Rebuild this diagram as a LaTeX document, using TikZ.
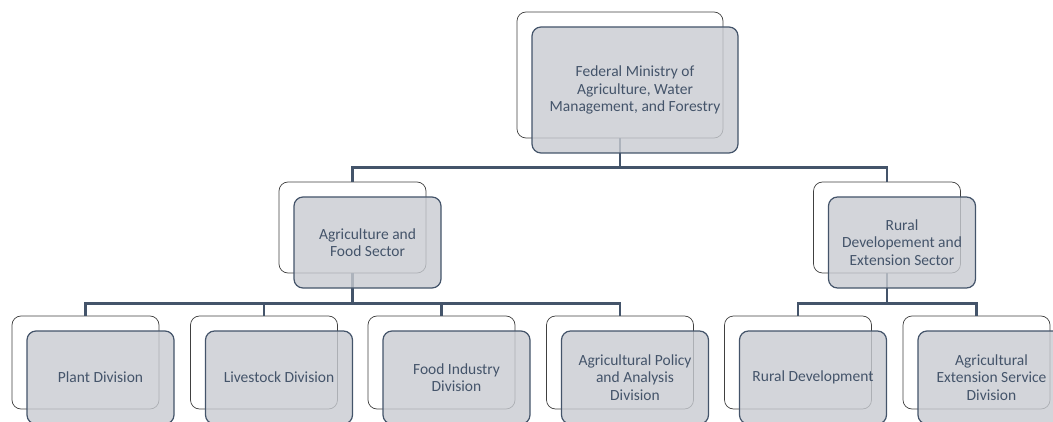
\documentclass[tikz,border=0pt]{standalone}
\usepackage{fontspec}
\setmainfont{Carlito}
\usetikzlibrary{positioning}

\definecolor{boxfill}{RGB}{200,203,209}
\definecolor{slate}{RGB}{68,84,106}

\tikzset{
  backframe/.style={draw=black!75, line width=0.7pt, fill=white, rounded corners=9pt,
    minimum width=147pt, minimum height=93pt, inner sep=0pt},
  frontbox/.style={draw=slate, line width=1.2pt, fill=boxfill, fill opacity=0.8,
    text opacity=1, text=slate, rounded corners=9pt, minimum width=147pt,
    minimum height=93pt, inner sep=0pt, align=center,
    font=\fontsize{15.5}{17.5}\selectfont},
  bigbox/.style={minimum width=206pt, minimum height=126pt},
  midbox/.style={minimum height=91pt},
  link/.style={draw=slate, line width=2.5pt},
}

\begin{document}
\begin{tikzpicture}[x=1pt,y=1pt]
    \clip (0,0) rectangle (1053,421);
    % Back frames
    \node[backframe,bigbox] (ministry-b) at (620,346) {};
    \node[backframe,midbox] (agri-b) at (352.5,193.5) {};
    \node[backframe,midbox] (rural-b) at (887,193.5) {};
    \node[backframe] (plant-b) at (85.5,58.5) {};
    \node[backframe] (livestock-b) at (264,58.5) {};
    \node[backframe] (food-b) at (441.5,58.5) {};
    \node[backframe] (policy-b) at (620,58.5) {};
    \node[backframe] (ruraldev-b) at (798,58.5) {};
    \node[backframe] (extension-b) at (976.5,58.5) {};
    % Connectors
    \foreach \s in {agri,rural}
        \draw[link] (ministry-b.south) -- ++(0,-29) -| (\s-b.north);
    \foreach \d in {plant,livestock,food,policy}
        \draw[link] (agri-b.south) -- ++(0,-30) -| (\d-b.north);
    \foreach \d in {ruraldev,extension}
        \draw[link] (rural-b.south) -- ++(0,-30) -| (\d-b.north);
    % Front boxes
    \node[frontbox,bigbox] (ministry) at ([shift={(15,-15)}]ministry-b.center)
        {Federal Ministry of\\Agriculture, Water\\Management, and Forestry};
    \node[frontbox,midbox] (agri) at ([shift={(15,-15)}]agri-b.center)
        {Agriculture and\\Food Sector};
    \node[frontbox,midbox] (rural) at ([shift={(15,-15)}]rural-b.center)
        {Rural\\Developement and\\Extension Sector};
    \node[frontbox] (plant) at ([shift={(15,-15)}]plant-b.center) {Plant Division};
    \node[frontbox] (livestock) at ([shift={(15,-15)}]livestock-b.center) {Livestock Division};
    \node[frontbox] (food) at ([shift={(15,-15)}]food-b.center) {Food Industry\\Division};
    \node[frontbox] (policy) at ([shift={(15,-15)}]policy-b.center)
        {Agricultural Policy\\and Analysis\\Division};
    \node[frontbox] (ruraldev) at ([shift={(15,-15)}]ruraldev-b.center) {Rural Development};
    \node[frontbox] (extension) at ([shift={(15,-15)}]extension-b.center)
        {Agricultural\\Extension Service\\Division};
\end{tikzpicture}
\end{document}
